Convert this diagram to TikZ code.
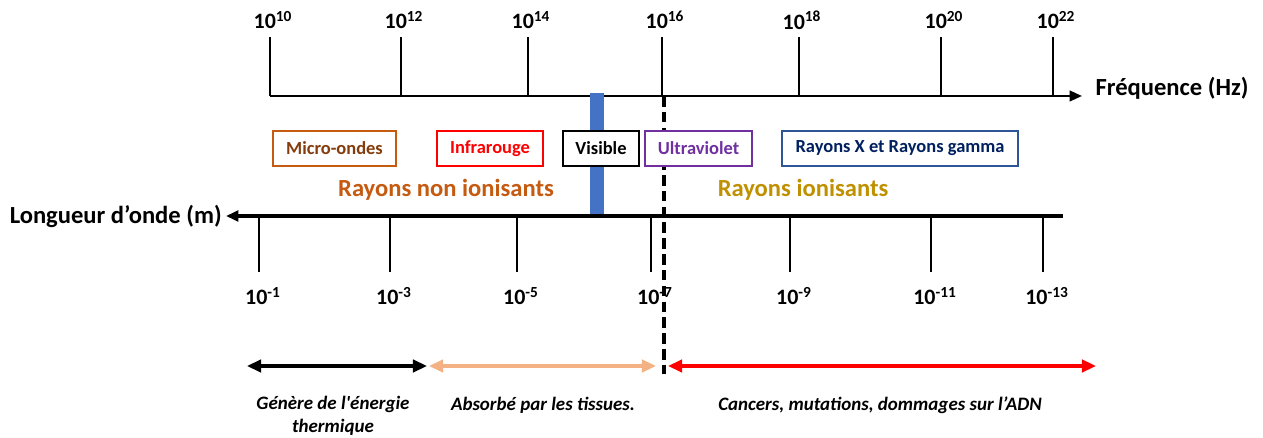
\documentclass[tikz,border=0pt]{standalone}
\usepackage{fontspec}
\setmainfont{Carlito}
\usepackage{tikz}
\usetikzlibrary{arrows.meta}

\definecolor{microcol}{HTML}{C55A11}
\definecolor{microtxt}{HTML}{843C0C}
\definecolor{uvcol}{HTML}{7030A0}
\definecolor{xcol}{HTML}{2F5597}
\definecolor{xtxt}{HTML}{002060}
\definecolor{viscol}{HTML}{4472C4}
\definecolor{nonion}{HTML}{C55A11}
\definecolor{ion}{HTML}{BF9000}
\definecolor{peach}{HTML}{F4B183}

\tikzset{
    tick/.style={line width=1.1pt},
    axis/.style={line width=1.3pt},
    ticklabel/.style={font=\fontsize{12.5}{14}\selectfont\bfseries, inner sep=0pt},
    axislabel/.style={font=\fontsize{14}{16}\selectfont\bfseries, inner sep=0pt},
    band/.style={draw, line width=0.8pt, fill=white, minimum height=35*0.02cm,
        inner sep=0pt, font=\fontsize{10.5}{12}\selectfont\bfseries},
    zone/.style={font=\fontsize{14}{16}\selectfont\bfseries, inner sep=0pt},
    effect/.style={line width=2.3pt, {Triangle[length=8pt,width=7pt]}-{Triangle[length=8pt,width=7pt]}},
    note/.style={font=\fontsize{10.8}{13}\selectfont\bfseries\itshape, align=center, inner sep=0pt}
}

\begin{document}
\begin{tikzpicture}[x=0.02cm, y=-0.02cm]
    \useasboundingbox (0,0) rectangle (1263,438);

    % frequency axis
    \coordinate (fstart) at (270,96);
    \coordinate (fend)   at (1082,96);
    \draw[axis, -{Triangle[length=7pt,width=6pt]}] (fstart) -- (fend);
    \node[axislabel] (freq) at (1172,88) {Fréquence (Hz)};
    \foreach \x/\e [count=\i] in {270/10, 401/12, 528/14, 662/16, 799/18, 941/20, 1053/22} {
        \coordinate (fb\i) at (\x,96);
        \coordinate (ft\i) at (\x,37);
        \node[ticklabel] (fl\i) at (\x+3,20) {10\textsuperscript{\e}};
        \draw[tick] (fb\i) -- (ft\i);
    }

    % visible band
    \fill[viscol] (590,93) rectangle (604,214);

    % wavelength axis
    \coordinate (lstart) at (1063,216);
    \coordinate (lend)   at (226,216);
    \draw[axis, line width=1.8pt, -{Triangle[length=7pt,width=6pt]}] (lstart) -- (lend);
    \node[axislabel, anchor=east] (wave) at (222,216) {Longueur d’onde (m)};
    \foreach \x/\e [count=\i] in {259/-1, 390/-3, 517/-5, 651/-7, 790/-9, 931/-11, 1043/-13} {
        \coordinate (lb\i) at (\x,216);
        \coordinate (lt\i) at (\x,272);
        \node[ticklabel] (ll\i) at (\x+4,296) {10\textsuperscript{\e}};
        \draw[tick] (lb\i) -- (lt\i);
    }

    % ionisation limit
    \coordinate (limtop) at (664,96);
    \coordinate (limbot) at (664,374);
    \draw[line width=2pt, dash pattern=on 6pt off 3pt] (limtop) -- (limbot);

    % spectral bands
    \node[band, draw=microcol, text=microtxt, minimum width=123*0.02cm] (micro) at (334.5,148.5) {Micro-ondes};
    \node[band, draw=red, text=red, minimum width=106*0.02cm]           (infra) at (490,148.5) {Infrarouge};
    \node[band, draw=black, text=black, minimum width=76*0.02cm]        (vis)   at (601,148.5) {Visible};
    \node[band, draw=uvcol, text=uvcol, minimum width=107*0.02cm]       (uv)    at (698.5,148.5) {Ultraviolet};
    \node[band, draw=xcol, text=xtxt, minimum width=236*0.02cm]         (xray)  at (900,148.5) {Rayons X et Rayons gamma};

    \node[zone, text=nonion] (nonionis) at (446,190) {Rayons non ionisants};
    \node[zone, text=ion]    (ionis)    at (803,190) {Rayons ionisants};

    % effects
    \coordinate (e1a) at (247,366);
    \coordinate (e1b) at (427,366);
    \coordinate (e2a) at (429,366);
    \coordinate (e2b) at (656,366);
    \coordinate (e3a) at (668,366);
    \coordinate (e3b) at (1096,366);
    \draw[effect, black] (e1a) -- (e1b);
    \draw[effect, peach] (e2a) -- (e2b);
    \draw[effect, red]   (e3a) -- (e3b);

    \node[note] (therm)  at (333,416) {Génère de l\textquotesingle énergie\\thermique};
    \node[note] (tissue) at (543,405) {Absorbé par les tissues.};
    \node[note] (adn)    at (880,405) {Cancers, mutations, dommages sur l’ADN};
\end{tikzpicture}
\end{document}
